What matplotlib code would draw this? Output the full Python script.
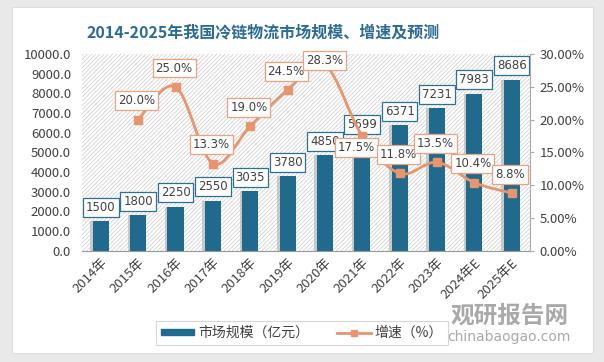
import numpy as np
import matplotlib.pyplot as plt
from matplotlib.path import Path
from matplotlib.patches import PathPatch, Rectangle, Patch
from matplotlib.lines import Line2D
from matplotlib.ticker import FuncFormatter, MultipleLocator

plt.rcParams['font.family'] = ['Noto Sans CJK SC', 'DejaVu Sans']
plt.rcParams['hatch.linewidth'] = 0.6

years = ["2014年", "2015年", "2016年", "2017年", "2018年", "2019年", "2020年",
         "2021年", "2022年", "2023年", "2024年E", "2025年E"]
market = [1500, 1800, 2250, 2550, 3035, 3780, 4850, 5699, 6371, 7231, 7983, 8686]
# growth rate (%), none for 2014
growth_years = years[1:]
growth = [20.0, 25.0, 13.3, 19.0, 24.5, 28.3, 17.5, 11.8, 13.5, 10.4, 8.8]

bar_c = '#1F6A8D'
line_c = '#E8946C'
txt_c = '#404040'

fig = plt.figure(figsize=(6.04, 3.62), dpi=100)
fig.patch.set_facecolor('#e9e9e9')
fig.add_artist(Rectangle((0.02, 0.025), 0.962, 0.955, transform=fig.transFigure,
                         facecolor='white', edgecolor='#dddddd', lw=0.8, zorder=0))

ax = fig.add_axes([0.136, 0.307, 0.742, 0.544])
ax2 = ax.twinx()
ax.set_zorder(1)
ax2.set_zorder(2)
ax.patch.set_visible(False)
ax2.patch.set_visible(False)

x = np.arange(len(years))
ax.add_patch(Rectangle((0, 0), 1, 1, transform=ax.transAxes, facecolor='white',
                       edgecolor='#d2d2d2', hatch='////////', lw=0, zorder=0))

# shadow + bars
ax.bar(x - 0.06, market, width=0.44, color='#a8a8a8', alpha=0.55, zorder=1)
ax.bar(x, market, width=0.43, color=bar_c, zorder=2)
for xi, v in zip(x, market):
    ax.annotate(f"{v}", (xi, v), xytext=(0, 10), textcoords='offset points',
                ha='center', va='center', fontsize=8.5, color=txt_c, zorder=3,
                family='DejaVu Sans',
                bbox=dict(boxstyle='square,pad=0.25', fc='white', ec='#2D7092', lw=0.9))

ax.set_xlim(-0.5, len(years) - 0.5)
ax.set_ylim(0, 10000)
ax.yaxis.set_major_locator(MultipleLocator(1000))
ax.yaxis.set_major_formatter(FuncFormatter(lambda v, p: f"{v:.1f}"))
ax.set_xticks(x)
ax.set_xticklabels(years, rotation=45, ha='right', rotation_mode='anchor')
for s in ['top', 'right', 'left']:
    ax.spines[s].set_visible(False)
ax.spines['bottom'].set_color('#999999')
ax.tick_params(axis='y', length=0, labelsize=9.5, colors=txt_c, pad=8)
ax.tick_params(axis='x', length=0, labelsize=9.5, colors=txt_c, pad=4)

# smooth growth line (cubic bezier through points)
gx = x[1:].astype(float)
gy = np.array(growth) / 100
pts = np.column_stack([gx, gy])
verts = [pts[0]]
codes = [Path.MOVETO]
n = len(pts)
for i in range(n - 1):
    p0 = pts[i - 1] if i > 0 else pts[i]
    p3 = pts[i + 2] if i + 2 < n else pts[i + 1]
    c1 = pts[i] + (pts[i + 1] - p0) / 6
    c2 = pts[i + 1] - (p3 - pts[i]) / 6
    verts += [c1, c2, pts[i + 1]]
    codes += [Path.CURVE4] * 3
ax2.add_patch(PathPatch(Path(verts, codes), fc='none', ec=line_c, lw=2, zorder=3))
ax2.plot(gx, gy, ls='none', marker='s', ms=6, color=line_c, zorder=4)

offsets = {"2020年": (0, 3), "2021年": (-4, -8)}
for yr, xi, v in zip(growth_years, gx, growth):
    dx, dy = offsets.get(yr, (-1, 13.5))
    ax2.annotate(f"{v:.1f}%", (xi, v / 100), xytext=(dx, dy), textcoords='offset points',
                 ha='center', va='center', fontsize=8.5, color=txt_c, zorder=5,
                 family='DejaVu Sans',
                 bbox=dict(boxstyle='square,pad=0.25', fc='white', ec='#E8A385', lw=0.9))

ax2.set_ylim(0, 0.30)
ax2.yaxis.set_major_locator(MultipleLocator(0.05))
ax2.yaxis.set_major_formatter(FuncFormatter(lambda v, p: f"{v * 100:.2f}%"))
for s in ['top', 'left', 'bottom']:
    ax2.spines[s].set_visible(False)
ax2.spines['right'].set_color('#aaaaaa')
ax2.tick_params(axis='y', length=3, color='#aaaaaa', labelsize=9.5, labelcolor=txt_c)

fig.text(0.435, 0.912, "2014-2025年我国冷链物流市场规模、增速及预测", ha='center', va='center',
         fontsize=11.5, fontweight='bold', color='#2B6B93')

# legend
handles = [Patch(color=bar_c), Line2D([], [], color=line_c, lw=2, marker='s', ms=5)]
leg = fig.legend(handles, ["市场规模（亿元）", "增速（%）"], loc='center',
                 bbox_to_anchor=(0.5, 0.08), ncol=2, fontsize=10, frameon=True,
                 fancybox=False, edgecolor='#cccccc', handlelength=2.4, handleheight=0.35,
                 columnspacing=2.0, borderpad=0.35, handletextpad=0.3)
leg.get_frame().set_linewidth(0.8)
for t in leg.get_texts():
    t.set_color(txt_c)

# watermark
fig.text(0.843, 0.127, "观研报告网", ha='center', va='center', fontsize=17,
         fontweight='bold', color='#a9a9a9')
fig.text(0.843, 0.069, "chinabaogao.com", ha='center', va='center', fontsize=10,
         color='#a9a9a9', family='DejaVu Sans')

fig.savefig("out.png", dpi=100)
